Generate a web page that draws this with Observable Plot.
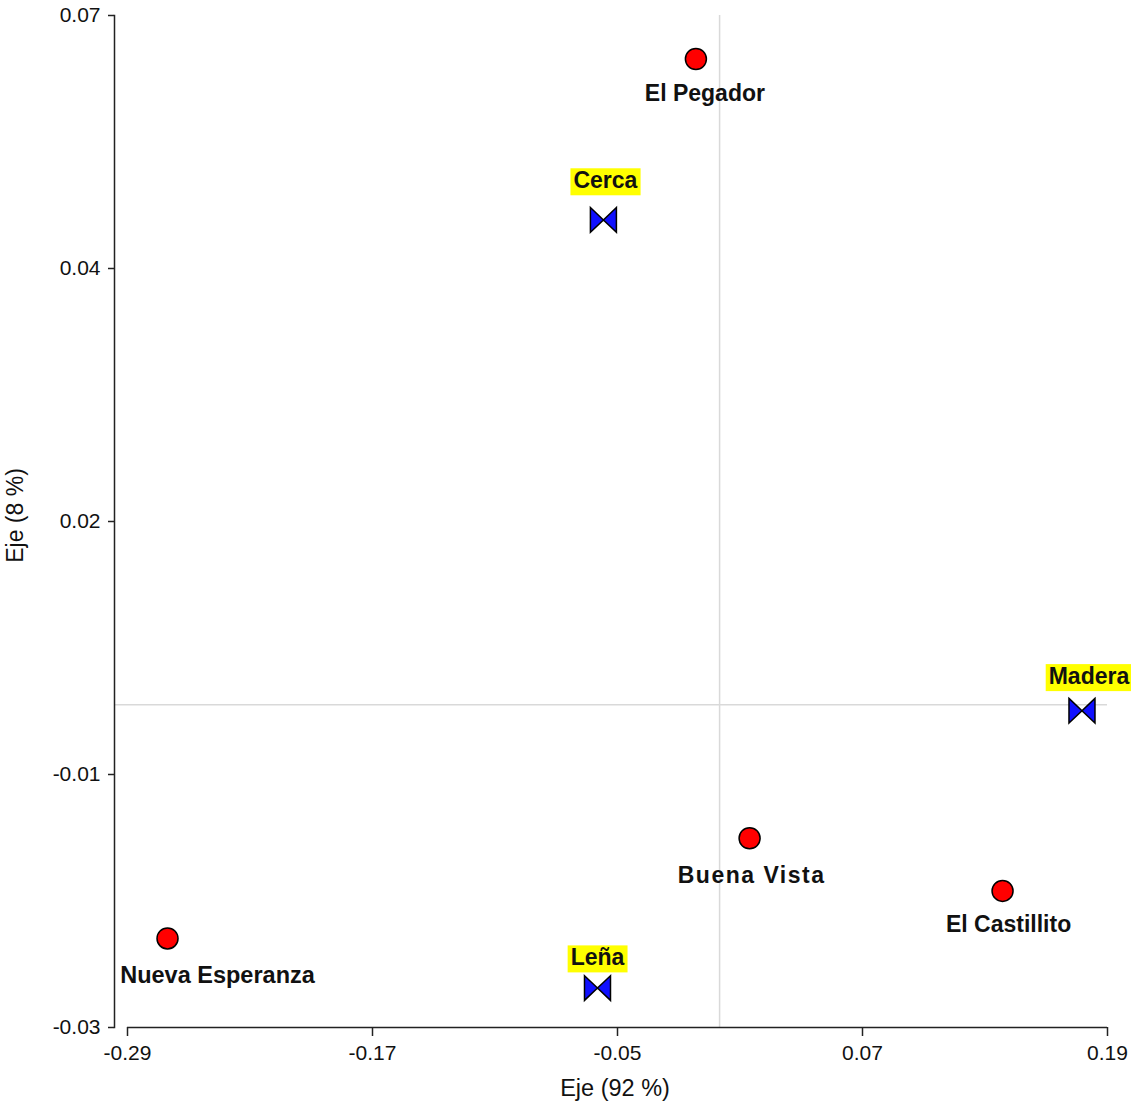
<!DOCTYPE html>
<html>
<head>
<meta charset="utf-8">
<script src="https://cdn.jsdelivr.net/npm/d3@7"></script>
<script src="https://cdn.jsdelivr.net/npm/@observablehq/plot@0.6"></script>
<style>
  html, body { margin: 0; padding: 0; background: #fff; }
  #chart svg { display: block; }
  .bv text { letter-spacing: 1.5px; }
</style>
</head>
<body>
<div id="chart"></div>
<script>
// ---- data ----
const rowNames = ["El Pegador", "Buena Vista", "El Castillito", "Nueva Esperanza"];
const rowX = [-0.0116, 0.0147, 0.1386, -0.2704];
const rowY = [0.0638, -0.0132, -0.0184, -0.0231];
const colNames = ["Cerca", "Madera", "Leña"];
const colX = [-0.0569, 0.1775, -0.0598];
const colY = [0.0479, -0.0006, -0.0280];
const xDomain = [-0.29, 0.19];
const yDomain = [-0.0319, 0.0681];
const xTicks = [-0.29, -0.17, -0.05, 0.07, 0.19];
const yTicks = [-0.0319, -0.0069, 0.0181, 0.0431, 0.0681];
const xLabel = "Eje (92 %)";
const yLabel = "Eje (8 %)";

const rows = rowNames.map((name, i) => ({name, x: rowX[i], y: rowY[i]}));
const cols = colNames.map((name, i) => ({name, x: colX[i], y: colY[i]}));

// ---- label styling (offsets in px) ----
const rowLabelStyle = {
  "El Pegador": {dx: 9, dy: 35, size: 23},
  "Buena Vista": {dx: 2, dy: 37, size: 23, cls: "bv"},
  "El Castillito": {dx: 6, dy: 34, size: 23},
  "Nueva Esperanza": {dx: 50, dy: 37, size: 23.5}
};
const colLabelStyle = {
  "Cerca": {dx: 2, dy: -39},
  "Madera": {dx: 7, dy: -34},
  "Leña": {dx: 0, dy: -30}
};

const bowtie = {
  draw(context, size) {
    const r = Math.sqrt(size / Math.PI);
    const w = r, h = r * 0.95;
    context.moveTo(-w, -h);
    context.lineTo(0, 0);
    context.lineTo(-w, h);
    context.closePath();
    context.moveTo(w, -h);
    context.lineTo(0, 0);
    context.lineTo(w, h);
    context.closePath();
  }
};

const font = "'Liberation Sans', Arial, sans-serif";
const fmt = d => d.toFixed(2);

const rowLabelMarks = rows.map(d => {
  const s = rowLabelStyle[d.name];
  return Plot.text([d], {
    x: "x", y: "y", text: "name", dx: s.dx, dy: s.dy,
    fontSize: s.size, fontWeight: "bold", fill: "#111",
    className: s.cls
  });
});
const colLabelMarks = cols.map(d => {
  const s = colLabelStyle[d.name];
  return Plot.text([d], {
    x: "x", y: "y", text: "name", dx: s.dx, dy: s.dy,
    fontSize: 23, fontWeight: "bold", fill: "#111",
    className: "collabel"
  });
});

const chart = Plot.plot({
  width: 1131,
  height: 1104,
  marginLeft: 114,
  marginRight: 24,
  marginTop: 15,
  marginBottom: 77,
  style: {fontFamily: font, background: "#fff", overflow: "visible"},
  x: {domain: xDomain, insetLeft: 13},
  y: {domain: yDomain},
  marks: [
    Plot.ruleX([0], {stroke: "#d9d9d9", strokeWidth: 1.5}),
    Plot.ruleY([0], {stroke: "#d9d9d9", strokeWidth: 1.5}),
    Plot.frame({anchor: "left", stroke: "#222", strokeWidth: 1.5}),
    Plot.ruleY([yDomain[0]], {x1: xDomain[0], x2: xDomain[1], stroke: "#222", strokeWidth: 1.5}),
    Plot.axisX({
      ticks: xTicks, tickFormat: fmt, tickSize: 9, tickPadding: 9,
      fontSize: 21, stroke: "#222", strokeWidth: 1.5, fill: "#111", label: null
    }),
    Plot.axisY({
      ticks: yTicks, tickFormat: fmt, tickSize: 6, tickPadding: 8,
      fontSize: 21, stroke: "#222", strokeWidth: 1.5, fill: "#111", label: null
    }),
    Plot.text([xLabel], {frameAnchor: "bottom", text: d => d, textAnchor: "middle", dx: 4, dy: 68, fontSize: 23.5, fill: "#111"}),
    Plot.text([yLabel], {frameAnchor: "left", text: d => d, textAnchor: "middle", lineAnchor: "middle", rotate: -90, dx: -99, dy: -6, fontSize: 23, fill: "#111"}),
    Plot.dot(rows, {x: "x", y: "y", r: 10.5, fill: "#ff0000", stroke: "#000", strokeWidth: 1.5}),
    Plot.dot(cols, {x: "x", y: "y", r: 13, symbol: bowtie, fill: "#1010ff", stroke: "#000", strokeWidth: 1.5}),
    ...rowLabelMarks,
    ...colLabelMarks
  ]
});

document.getElementById("chart").appendChild(chart);

// yellow backgrounds behind the column labels
chart.querySelectorAll("g.collabel text").forEach(t => {
  const b = t.getBBox();
  const rect = document.createElementNS("http://www.w3.org/2000/svg", "rect");
  rect.setAttribute("x", b.x - 3);
  rect.setAttribute("y", b.y + 1);
  rect.setAttribute("width", b.width + 6);
  rect.setAttribute("height", b.height + 1);
  rect.setAttribute("fill", "#ffff00");
  const tr = t.getAttribute("transform");
  if (tr) rect.setAttribute("transform", tr);
  t.parentNode.insertBefore(rect, t);
});
</script>
</body>
</html>
